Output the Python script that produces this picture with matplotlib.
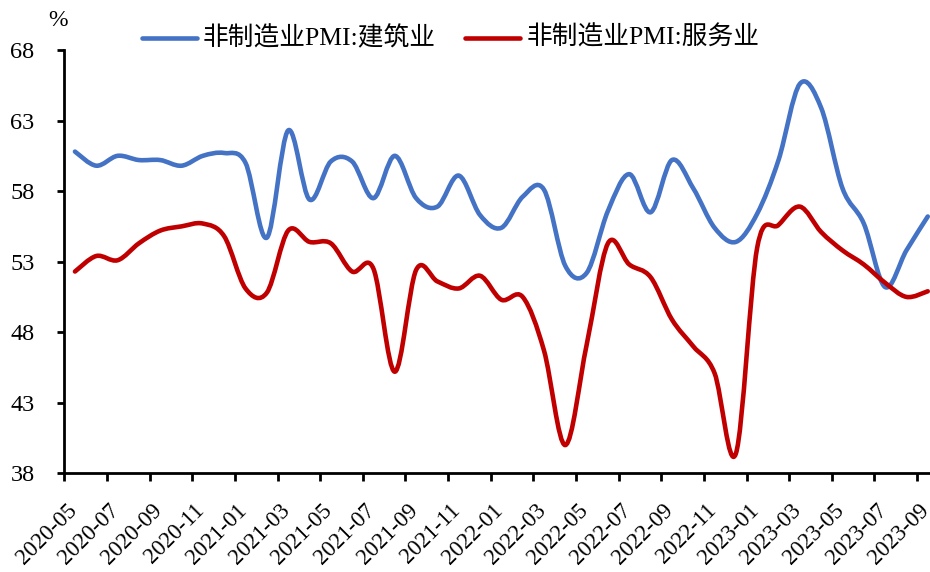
import numpy as np
import matplotlib
matplotlib.use("Agg")
import matplotlib.pyplot as plt
from matplotlib.path import Path
from matplotlib.patches import PathPatch
from matplotlib.lines import Line2D
from matplotlib.transforms import ScaledTranslation

# ---- data -------------------------------------------------------------
months = [
    "2020-05", "2020-06", "2020-07", "2020-08", "2020-09", "2020-10", "2020-11",
    "2020-12", "2021-01", "2021-02", "2021-03", "2021-04", "2021-05", "2021-06",
    "2021-07", "2021-08", "2021-09", "2021-10", "2021-11", "2021-12", "2022-01",
    "2022-02", "2022-03", "2022-04", "2022-05", "2022-06", "2022-07", "2022-08",
    "2022-09", "2022-10", "2022-11", "2022-12", "2023-01", "2023-02", "2023-03",
    "2023-04", "2023-05", "2023-06", "2023-07", "2023-08", "2023-09",
]

construction = [60.8, 59.8, 60.5, 60.2, 60.2, 59.8, 60.5, 60.7, 60.0, 54.7,
                62.3, 57.4, 60.1, 60.1, 57.5, 60.5, 57.5, 56.9, 59.1, 56.3,
                55.4, 57.6, 58.1, 52.7, 52.2, 56.6, 59.2, 56.5, 60.2, 58.2,
                55.4, 54.4, 56.4, 60.2, 65.6, 63.9, 58.2, 55.7, 51.2, 53.8,
                56.2]

services = [52.3, 53.4, 53.1, 54.3, 55.2, 55.5, 55.7, 54.8, 51.1, 50.8,
            55.2, 54.4, 54.3, 52.3, 52.5, 45.2, 52.4, 51.6, 51.1, 52.0,
            50.3, 50.5, 46.7, 40.0, 47.1, 54.3, 52.8, 51.9, 48.9, 47.0,
            45.1, 39.4, 54.0, 55.6, 56.9, 55.1, 53.8, 52.8, 51.5, 50.5,
            50.9]

series_names = ["非制造业PMI:建筑业", "非制造业PMI:服务业"]
series_colors = ["#4472C4", "#C00000"]

y_ticks = [38, 43, 48, 53, 58, 63, 68]

# ---- helpers ------------------------------------------------------------
def smooth_path(xs, ys):
    """Cubic Bezier path through every point (Catmull-Rom style control points)."""
    pts = np.column_stack([xs, ys]).astype(float)
    n = len(pts)
    verts = [pts[0]]
    codes = [Path.MOVETO]
    for i in range(n - 1):
        p0 = pts[i - 1] if i > 0 else pts[i]
        p1 = pts[i]
        p2 = pts[i + 1]
        p3 = pts[i + 2] if i + 2 < n else pts[i + 1]
        c1 = p1 + (p2 - p0) / 6.0
        c2 = p2 - (p3 - p1) / 6.0
        verts += [c1, c2, p2]
        codes += [Path.CURVE4] * 3
    return Path(verts, codes)


# ---- figure -------------------------------------------------------------
W, H = 930, 572
fig = plt.figure(figsize=(W / 100, H / 100), dpi=100)
serif = ["Liberation Serif", "Noto Sans CJK SC", "DejaVu Sans"]
plt.rcParams["font.family"] = serif

ax_left, ax_bottom, ax_top = 64.3, 473.3, 50.0
px_per_cat = 21.32
ax = fig.add_axes([ax_left / W, 1 - ax_bottom / H, 1 - ax_left / W,
                   (ax_bottom - ax_top) / H])

x = np.arange(len(months))
for vals, col in zip([construction, services], series_colors):
    patch = PathPatch(smooth_path(x, vals), fill=False, edgecolor=col,
                      lw=3.3, capstyle="round", joinstyle="round")
    ax.add_patch(patch)

ax.set_xlim(-0.5, -0.5 + (W - ax_left) / px_per_cat)
ax.set_ylim(38, 68)

# axes styling
for side in ["top", "right"]:
    ax.spines[side].set_visible(False)
for side in ["left", "bottom"]:
    ax.spines[side].set_linewidth(2.0)
    ax.spines[side].set_color("black")

ax.set_yticks(y_ticks)
ax.set_yticklabels([str(v) for v in y_ticks], fontsize=17.5)
ax.tick_params(axis="y", direction="out", length=5, width=2, pad=16.5)

label_idx = list(range(0, len(months), 2))
ax.set_xticks(label_idx)
ax.set_xticklabels([months[i] for i in label_idx], fontsize=16.5,
                   rotation=45, ha="right", va="top", rotation_mode="anchor")
ax.tick_params(axis="x", which="major", length=0, pad=19)
ax.set_xticks(np.arange(-0.5, len(months) - 1, 2), minor=True)
ax.tick_params(axis="x", which="minor", direction="out", length=6, width=2)

# nudge the rotated month labels to the left so the last one stays inside
shift = ScaledTranslation(-9 / 100, 0, fig.dpi_scale_trans)
for lbl in ax.get_xticklabels():
    lbl.set_transform(lbl.get_transform() + shift)

# unit label
fig.text(57.5 / W, 1 - 21 / H, "%", ha="center", va="center", fontsize=17)

# legend
legend_items = [
    (141.7, 196.7, 203.0),
    (465.0, 520.0, 527.0),
]
ly = 1 - 37.7 / H
for (x0, x1, tx), name, col in zip(legend_items, series_names, series_colors):
    fig.add_artist(Line2D([x0 / W, x1 / W], [ly, ly], transform=fig.transFigure,
                          color=col, lw=3.3, solid_capstyle="round"))
    fig.text(tx / W, ly, name, ha="left", va="center", fontsize=18.5,
             family=serif)

fig.savefig("out.png", dpi=100)
